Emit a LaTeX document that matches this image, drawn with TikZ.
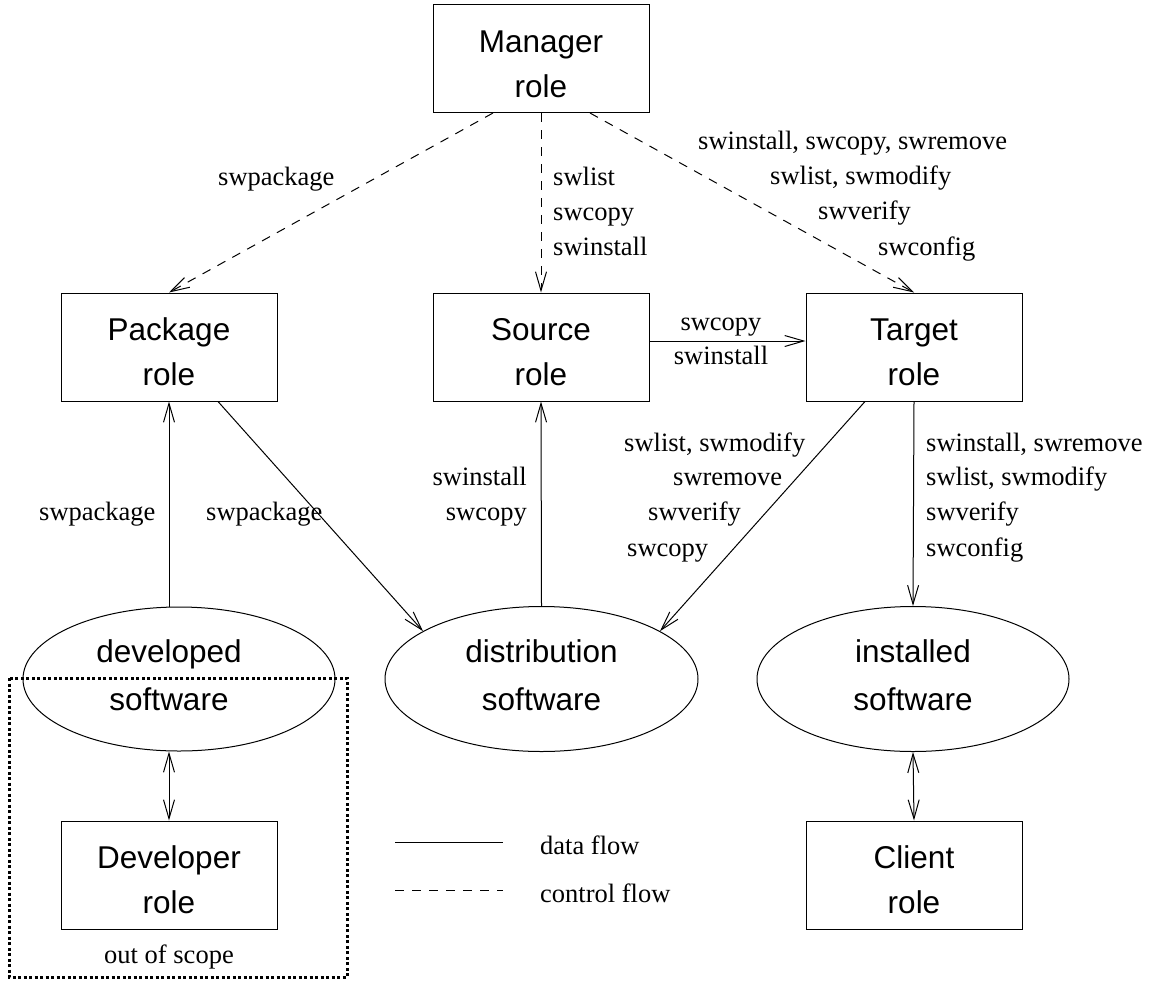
\documentclass[tikz,border=0pt]{standalone}
\usepackage{fontspec}
\setmainfont{Liberation Serif}
\newfontfamily\sansf{Liberation Sans}
\usetikzlibrary{arrows.meta,shapes.geometric}
% struts that place the two text lines inside the role boxes and ellipses
\newcommand\boxstrut{\rule{0pt}{33pt}}
\newcommand\ellstrut{\rule[-7pt]{0pt}{7pt}}
\tikzset{
  role/.style={draw, line width=1pt, minimum width=216pt, minimum height=108pt,
    inner sep=0pt, align=center, font=\sansf\fontsize{31.5}{45}\selectfont},
  sw/.style={draw, ellipse, line width=1pt, minimum width=313pt, minimum height=145pt,
    inner sep=0pt, align=center, font=\sansf\fontsize{31.5}{48}\selectfont},
  lbl/.style={inner sep=0pt, font=\fontsize{26.5}{35}\selectfont},
  lblw/.style={lbl, anchor=base west},
  lble/.style={lbl, anchor=base east},
  >={Straight Barb[length=19pt,width=11pt]},
  data/.style={line width=1pt},
  ctrl/.style={line width=1pt, dash pattern=on 9pt off 8pt},
}
\begin{document}
\begin{tikzpicture}[x=1pt, y=-1pt]
\useasboundingbox (0,0) rectangle (1156,980);

% roles
\node[role] (mgr) at (541,58.5) {\boxstrut Manager\\role};
\node[role] (pkg) at (169,347) {\boxstrut Package\\role};
\node[role] (src) at (541,347) {\boxstrut Source\\role};
\node[role] (tgt) at (914,347) {\boxstrut Target\\role};
\node[role] (dvr) at (169,875) {\boxstrut Developer\\role};
\node[role] (cli) at (914,875) {\boxstrut Client\\role};

% software states
\node[sw, minimum width=312pt, minimum height=144pt] (dev) at (179,679) {};
\node[inner sep=0pt, align=center, font=\sansf\fontsize{31.5}{48}\selectfont]
  (devtxt) at (169,679) {developed\\software\ellstrut};
\node[sw] (dist) at (541.5,679) {distribution\\software\ellstrut};
\node[sw, minimum width=312pt] (inst) at (913,679) {installed\\software\ellstrut};

% control flow from the manager
\draw[ctrl,->] ([xshift=-48pt]mgr.south) -- (pkg.north);
\draw[ctrl,->] (mgr.south) -- (src.north);
\draw[ctrl,->] ([xshift=49pt]mgr.south) -- (tgt.north);

% data flow
\draw[data,->] ([yshift=6pt]src.east) -- ([yshift=6pt]tgt.west);
\draw[data,->] ([xshift=-10pt]dev.north) -- (pkg.south);
\draw[data,->] ([xshift=49pt]pkg.south) -- (dist.158);
\draw[data,->] (dist.north) -- (src.south);
\draw[data,->] ([xshift=-49pt]tgt.south) -- (dist.22);
\draw[data,->] (tgt.south) -- (inst.north);
\draw[data,<->] ([xshift=-10pt]dev.south) -- (dvr.north);
\draw[data,<->] (inst.south) -- (cli.north);

% command labels
\node[lblw] (l1) at (218,185) {swpackage};
\node[lblw] (l2) at (553,185) {swlist};
\node[lblw] (l3) at (553,220) {swcopy};
\node[lblw] (l4) at (553,255) {swinstall};
\node[lblw] (l5) at (698,149) {swinstall, swcopy, swremove};
\node[lblw] (l6) at (770,184) {swlist, swmodify};
\node[lblw] (l7) at (818,219) {swverify};
\node[lblw] (l8) at (878,255) {swconfig};
\node[lbl, anchor=base] (l9) at (721,330) {swcopy};
\node[lbl, anchor=base] (l10) at (721,364) {swinstall};
\node[lblw] (l11) at (39,520) {swpackage};
\node[lblw] (l12) at (206,520) {swpackage};
\node[lble] (l13) at (527,485) {swinstall};
\node[lble] (l14) at (527,520) {swcopy};
\node[lblw] (l15) at (624,451) {swlist, swmodify};
\node[lblw] (l16) at (673,485) {swremove};
\node[lblw] (l17) at (648,520) {swverify};
\node[lblw] (l18) at (627,556) {swcopy};
\node[lblw] (l19) at (926,451) {swinstall, swremove};
\node[lblw] (l20) at (926,485) {swlist, swmodify};
\node[lblw] (l21) at (926,520) {swverify};
\node[lblw] (l22) at (926,556) {swconfig};

% out of scope region
\draw[line width=3pt, dash pattern=on 3pt off 2.5pt] (9,678) rectangle (347,977);
\node[lbl, anchor=base] (oos) at (169,963) {out of scope};

% legend
\coordinate (ds) at (395,842);
\coordinate (de) at (503,842);
\coordinate (cs) at (395,890);
\coordinate (ce) at (503,890);
\draw[data] (ds) -- (de);
\draw[ctrl] (cs) -- (ce);
\node[lblw] (leg1) at (540,854) {data flow};
\node[lblw] (leg2) at (540,902) {control flow};
\end{tikzpicture}
\end{document}
